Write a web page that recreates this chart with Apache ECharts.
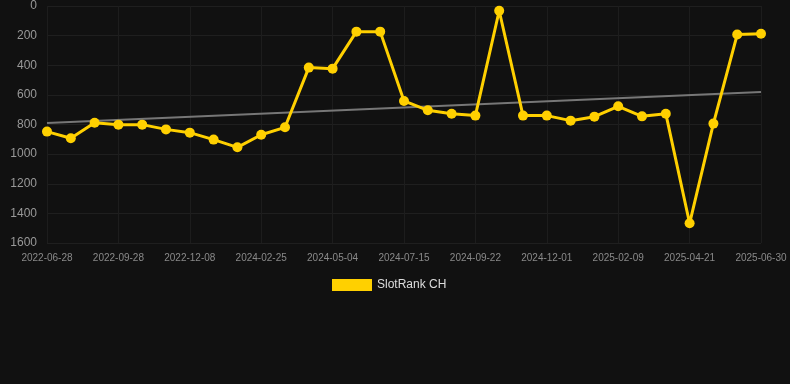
<!DOCTYPE html>
<html><head><meta charset="utf-8">
<script src="https://cdn.jsdelivr.net/npm/echarts@6/dist/echarts.min.js"></script>
<style>html,body{margin:0;padding:0;background:#111111;}#c{width:790px;height:384px;}</style>
</head><body><div id="c"></div>
<script>
const dates = ['2022-06-28','2022-07-28','2022-08-28','2022-09-28','2022-10-22','2022-11-15','2022-12-08','2024-01-14','2024-02-03','2024-02-25','2024-03-18','2024-04-10','2024-05-04','2024-05-28','2024-06-21','2024-07-15','2024-08-07','2024-08-30','2024-09-22','2024-10-15','2024-11-08','2024-12-01','2024-12-24','2025-01-17','2025-02-09','2025-03-04','2025-03-28','2025-04-21','2025-05-14','2025-06-07','2025-06-30'];
const rankCH = [848,893,788,801,801,833,855,902,954,869,819,416,423,173,173,641,704,727,740,32,740,740,774,747,677,745,727,1467,794,193,187];
const trendEnds = [790,580];
const yTicks = {min:0, max:1600, interval:200};

const chart = echarts.init(document.getElementById('c'));
chart.setOption({
  backgroundColor:'#111111',
  animation:false,
  grid:{left:47,right:29,top:6,bottom:141},
  legend:{bottom:88,left:327,itemWidth:40,itemHeight:12,itemGap:10,
    textStyle:{color:'#dddddd',fontSize:12,fontFamily:'Arial, Liberation Sans, sans-serif'},
    data:[{name:'SlotRank CH',icon:'rect'}]},
  xAxis:{type:'category',data:dates,boundaryGap:false,
    axisLine:{show:false},axisTick:{show:false},
    axisLabel:{interval:2,color:'#8a8a8a',fontSize:10,margin:10,fontFamily:'Arial, Liberation Sans, sans-serif'},
    splitLine:{show:true,interval:2,lineStyle:{color:'#1d1d1d',width:1}}},
  yAxis:{type:'value',inverse:true,min:yTicks.min,max:yTicks.max,interval:yTicks.interval,
    axisLine:{show:false},axisTick:{show:false},
    axisLabel:{color:'#999999',fontSize:12,margin:10,formatter:function(v){return String(v);},fontFamily:'Arial, Liberation Sans, sans-serif'},
    splitLine:{lineStyle:{color:'#1f1f1f',width:1}}},
  series:[
    {name:'Trend',type:'line',data:[[dates[0],trendEnds[0]],[dates[dates.length-1],trendEnds[1]]],
     symbol:'none',lineStyle:{color:'#777777',width:2},z:1,silent:true},
    {name:'SlotRank CH',type:'line',data:rankCH,symbol:'circle',symbolSize:10,
     itemStyle:{color:'#FFD000'},lineStyle:{color:'#FFD000',width:3},z:2}
  ]
});
</script></body></html>
